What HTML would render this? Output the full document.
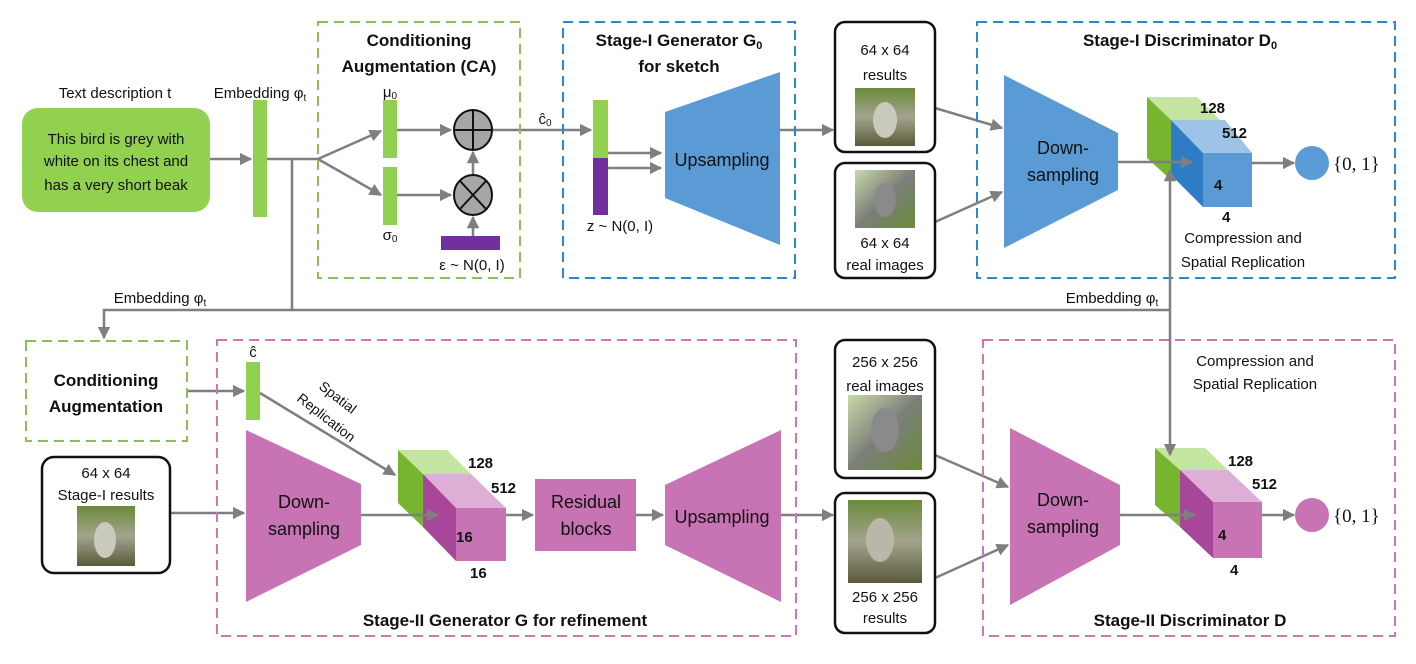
<!DOCTYPE html>
<html><head><meta charset="utf-8"><style>
html,body{margin:0;padding:0;background:#fff;}
svg{display:block;font-family:"Liberation Sans",sans-serif;}
</style></head><body>
<svg width="1416" height="664" viewBox="0 0 1416 664" xmlns="http://www.w3.org/2000/svg">
<defs>
<marker id="ar" viewBox="0 0 10 10" refX="9" refY="5" markerWidth="5" markerHeight="5" orient="auto"><path d="M0,0 L10,5 L0,10 z" fill="#7f7f7f"/></marker>
<linearGradient id="bird1" x1="0" y1="0" x2="0" y2="1"><stop offset="0" stop-color="#6c8a3c"/><stop offset="0.5" stop-color="#a2a48c"/><stop offset="1" stop-color="#5a5a3a"/></linearGradient>
<linearGradient id="bird2" x1="0" y1="0" x2="1" y2="1"><stop offset="0" stop-color="#c9d9a9"/><stop offset="0.5" stop-color="#7b7f78"/><stop offset="1" stop-color="#6a8a3a"/></linearGradient>
</defs>
<g stroke="#7f7f7f" stroke-width="2.5" fill="none">
<line x1="210" y1="159" x2="251" y2="159" marker-end="url(#ar)"/>
<polyline points="267,159 318,159"/>
<line x1="318" y1="159" x2="381" y2="131" marker-end="url(#ar)"/>
<line x1="318" y1="159" x2="381" y2="195" marker-end="url(#ar)"/>
<line x1="397" y1="130" x2="451" y2="130" marker-end="url(#ar)"/>
<line x1="397" y1="195" x2="451" y2="195" marker-end="url(#ar)"/>
<line x1="473" y1="175" x2="473" y2="152" marker-end="url(#ar)"/>
<line x1="473" y1="236" x2="473" y2="217" marker-end="url(#ar)"/>
<line x1="493" y1="130" x2="591" y2="130" marker-end="url(#ar)"/>
<line x1="608" y1="153" x2="661" y2="153" marker-end="url(#ar)"/>
<line x1="608" y1="168" x2="661" y2="168" marker-end="url(#ar)"/>
<line x1="780" y1="130" x2="833" y2="130" marker-end="url(#ar)"/>
<line x1="935" y1="108" x2="1002" y2="128" marker-end="url(#ar)"/>
<line x1="935" y1="222" x2="1002" y2="192" marker-end="url(#ar)"/>
<line x1="1252" y1="163" x2="1294" y2="163" marker-end="url(#ar)"/>
<polyline points="292,159 292,310 104,310 104,338" marker-end="url(#ar)"/>
<line x1="292" y1="310" x2="1170" y2="310"/>
<line x1="187" y1="391" x2="244" y2="391" marker-end="url(#ar)"/>
<line x1="170" y1="513" x2="244" y2="513" marker-end="url(#ar)"/>
<line x1="506" y1="515" x2="533" y2="515" marker-end="url(#ar)"/>
<line x1="636" y1="515" x2="663" y2="515" marker-end="url(#ar)"/>
<line x1="781" y1="515" x2="833" y2="515" marker-end="url(#ar)"/>
<line x1="935" y1="455" x2="1008" y2="487" marker-end="url(#ar)"/>
<line x1="935" y1="578" x2="1008" y2="545" marker-end="url(#ar)"/>
<line x1="1262" y1="515" x2="1294" y2="515" marker-end="url(#ar)"/>
</g>
<g fill="none" stroke-width="2" stroke-dasharray="10,6">
<rect x="318" y="22" width="202" height="256" stroke="#8cc152"/>
<rect x="563" y="22" width="232" height="256" stroke="#2e86d0"/>
<rect x="977" y="22" width="418" height="256" stroke="#2e86d0"/>
<rect x="26" y="341" width="161" height="100" stroke="#8cc152"/>
<rect x="217" y="340" width="579" height="296" stroke="#c977bb"/>
<rect x="983" y="340" width="412" height="296" stroke="#c977bb"/>
</g>
<rect x="22" y="108" width="188" height="104" rx="16" fill="#92d050"/>
<g font-size="15" fill="#111" text-anchor="middle">
<text x="116" y="144">This bird is grey with</text>
<text x="116" y="166">white on its chest and</text>
<text x="116" y="190">has a very short beak</text>
<text x="115" y="98">Text description t</text>
<text x="260" y="98">Embedding φ<tspan font-size="10" dy="3">t</tspan></text>
<text x="160" y="303">Embedding φ<tspan font-size="10" dy="3">t</tspan></text>
<text x="1112" y="303">Embedding φ<tspan font-size="10" dy="3">t</tspan></text>
<text x="390" y="97">μ<tspan font-size="10" dy="2">0</tspan></text>
<text x="390" y="240">σ<tspan font-size="10" dy="2">0</tspan></text>
<text x="472" y="270">ε ~ N(0, I)</text>
<text x="545" y="124">ĉ<tspan font-size="10" dy="2">0</tspan></text>
<text x="620" y="231">z ~ N(0, I)</text>
<text x="885" y="55">64 x 64</text>
<text x="885" y="80">results</text>
<text x="885" y="248">64 x 64</text>
<text x="885" y="270">real images</text>
<text x="1243" y="243">Compression and</text>
<text x="1243" y="267">Spatial Replication</text>
<text x="1255" y="366">Compression and</text>
<text x="1255" y="389">Spatial Replication</text>
<text x="253" y="357">ĉ</text>
<text x="106" y="478">64 x 64</text>
<text x="106" y="500">Stage-I results</text>
<text x="885" y="367">256 x 256</text>
<text x="885" y="391">real images</text>
<text x="885" y="602">256 x 256</text>
<text x="885" y="623">results</text>
</g>
<g font-size="17" font-weight="bold" fill="#111" text-anchor="middle">
<text x="419" y="46">Conditioning</text>
<text x="419" y="72">Augmentation (CA)</text>
<text x="679" y="46">Stage-I Generator G<tspan font-size="11" dy="3">0</tspan></text>
<text x="679" y="72">for sketch</text>
<text x="1180" y="46">Stage-I Discriminator D<tspan font-size="11" dy="3">0</tspan></text>
<text x="106" y="386">Conditioning</text>
<text x="106" y="412">Augmentation</text>
<text x="505" y="626">Stage-II Generator G for refinement</text>
<text x="1190" y="626">Stage-II Discriminator D</text>
</g>
<rect x="253" y="100" width="14" height="117" fill="#92d050"/>
<rect x="383" y="100" width="14" height="58" fill="#92d050"/>
<rect x="383" y="167" width="14" height="58" fill="#92d050"/>
<rect x="441" y="236" width="59" height="14" fill="#7030a0"/>
<rect x="593" y="100" width="15" height="58" fill="#92d050"/>
<rect x="593" y="158" width="15" height="57" fill="#7030a0"/>
<rect x="246" y="362" width="14" height="58" fill="#92d050"/>
<g stroke="#111" stroke-width="2" fill="#a6a6a6">
<ellipse cx="473" cy="130" rx="19" ry="20"/><line x1="454" y1="130" x2="492" y2="130"/><line x1="473" y1="110" x2="473" y2="150"/>
<ellipse cx="473" cy="195" rx="19" ry="20"/><line x1="460" y1="181" x2="486" y2="209"/><line x1="486" y1="181" x2="460" y2="209"/>
</g>
<polygon points="665,112 780,72 780,245 665,198" fill="#5b9bd5"/>
<text x="722" y="166" font-size="18" text-anchor="middle" fill="#111">Upsampling</text>
<polygon points="1004,75 1118,133 1118,190 1004,248" fill="#5b9bd5"/>
<text x="1063" y="154" font-size="18" text-anchor="middle" fill="#111">Down-</text>
<text x="1063" y="181" font-size="18" text-anchor="middle" fill="#111">sampling</text>
<g fill="none" stroke="#111" stroke-width="2.5">
<rect x="835" y="22" width="100" height="130" rx="10"/>
<rect x="835" y="163" width="100" height="115" rx="10"/>
<rect x="42" y="457" width="128" height="116" rx="12"/>
<rect x="835" y="340" width="100" height="138" rx="10"/>
<rect x="835" y="493" width="100" height="140" rx="10"/>
</g>
<rect x="855" y="88" width="60" height="58" fill="url(#bird1)"/>
<rect x="855" y="170" width="60" height="58" fill="url(#bird2)"/>
<rect x="77" y="506" width="58" height="60" fill="url(#bird1)"/>
<rect x="848" y="395" width="74" height="75" fill="url(#bird2)"/>
<rect x="848" y="500" width="74" height="83" fill="url(#bird1)"/>
<ellipse cx="885" cy="120" rx="12" ry="18" fill="#c9c9bd"/>
<ellipse cx="885" cy="200" rx="11" ry="17" fill="#8a8a8a"/>
<ellipse cx="105" cy="540" rx="11" ry="18" fill="#c9c9bd"/>
<ellipse cx="885" cy="430" rx="14" ry="22" fill="#8a8a8a"/>
<ellipse cx="880" cy="540" rx="14" ry="22" fill="#b9b8a8"/>
<polygon points="1147,97 1197,97 1220,120 1171,120" fill="#c4e5a0"/>
<polygon points="1147,97 1171,120 1171,180 1147,158" fill="#77b52f"/>
<polygon points="1171,120 1225,120 1252,153 1203,153" fill="#9dc3e6"/>
<polygon points="1171,120 1203,153 1203,207 1171,175" fill="#2e7cc4"/>
<rect x="1203" y="153" width="49" height="54" fill="#5b9bd5"/>
<g font-size="15" font-weight="bold" fill="#111">
<text x="1200" y="113">128</text><text x="1222" y="138">512</text><text x="1214" y="190">4</text><text x="1222" y="222">4</text>
</g>
<circle cx="1312" cy="163" r="17" fill="#5b9bd5"/>
<text x="1333" y="170" font-size="19" font-family="Liberation Serif,serif" fill="#111">{0, 1}</text>
<polygon points="246,430 361,484 361,545 246,602" fill="#c773b4"/>
<text x="304" y="508" font-size="18" text-anchor="middle" fill="#111">Down-</text>
<text x="304" y="535" font-size="18" text-anchor="middle" fill="#111">sampling</text>
<polygon points="398,450 447,450 471,474 423,474" fill="#c4e5a0"/>
<polygon points="398,450 423,474 423,527 398,503" fill="#77b52f"/>
<polygon points="423,474 471,474 506,508 456,508" fill="#deaed6"/>
<polygon points="423,474 456,508 456,561 423,527" fill="#a8479a"/>
<rect x="456" y="508" width="50" height="53" fill="#c773b4"/>
<g font-size="15" font-weight="bold" fill="#111">
<text x="468" y="468">128</text><text x="491" y="493">512</text><text x="456" y="542">16</text><text x="470" y="578">16</text>
</g>
<rect x="535" y="479" width="101" height="72" fill="#c773b4"/>
<text x="586" y="508" font-size="18" text-anchor="middle" fill="#111">Residual</text>
<text x="586" y="535" font-size="18" text-anchor="middle" fill="#111">blocks</text>
<polygon points="665,485 781,430 781,602 665,545" fill="#c773b4"/>
<text x="722" y="523" font-size="18" text-anchor="middle" fill="#111">Upsampling</text>
<text font-size="14" fill="#111" transform="translate(318,388) rotate(38)">Spatial</text>
<text font-size="14" fill="#111" transform="translate(296,400) rotate(38)">Replication</text>
<polygon points="1010,428 1120,485 1120,545 1010,605" fill="#c773b4"/>
<text x="1063" y="506" font-size="18" text-anchor="middle" fill="#111">Down-</text>
<text x="1063" y="533" font-size="18" text-anchor="middle" fill="#111">sampling</text>
<polygon points="1155,448 1205,448 1228,470 1180,470" fill="#c4e5a0"/>
<polygon points="1155,448 1180,470 1180,527 1155,505" fill="#77b52f"/>
<polygon points="1180,470 1228,470 1262,502 1213,502" fill="#deaed6"/>
<polygon points="1180,470 1213,502 1213,558 1180,527" fill="#a8479a"/>
<rect x="1213" y="502" width="49" height="56" fill="#c773b4"/>
<g font-size="15" font-weight="bold" fill="#111">
<text x="1228" y="466">128</text><text x="1252" y="489">512</text><text x="1218" y="540">4</text><text x="1230" y="575">4</text>
</g>
<circle cx="1312" cy="515" r="17" fill="#c773b4"/>
<text x="1333" y="522" font-size="19" font-family="Liberation Serif,serif" fill="#111">{0, 1}</text>
<g stroke="#7f7f7f" stroke-width="2.5" fill="none">
<line x1="1118" y1="162" x2="1192" y2="162" marker-end="url(#ar)"/>
<line x1="1170" y1="310" x2="1170" y2="170" marker-end="url(#ar)"/>
<line x1="1170" y1="310" x2="1170" y2="455" marker-end="url(#ar)"/>
<line x1="361" y1="515" x2="438" y2="515" marker-end="url(#ar)"/>
<line x1="1120" y1="515" x2="1195" y2="515" marker-end="url(#ar)"/>
<line x1="260" y1="393" x2="395" y2="475" marker-end="url(#ar)"/>
</g>
</svg>
</body></html>
